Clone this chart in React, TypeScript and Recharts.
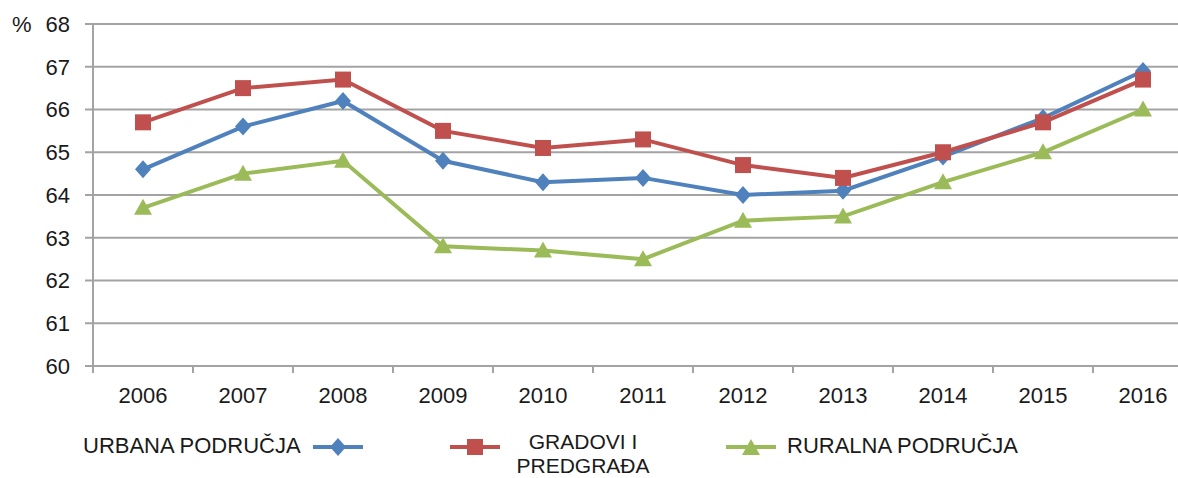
import { LineChart, Line, XAxis, YAxis, CartesianGrid, Legend } from "recharts";

const years = ["2006", "2007", "2008", "2009", "2010", "2011", "2012", "2013", "2014", "2015", "2016"];
const urbana = [64.6, 65.6, 66.2, 64.8, 64.3, 64.4, 64.0, 64.1, 64.9, 65.8, 66.9];
const gradovi = [65.7, 66.5, 66.7, 65.5, 65.1, 65.3, 64.7, 64.4, 65.0, 65.7, 66.7];
const ruralna = [63.7, 64.5, 64.8, 62.8, 62.7, 62.5, 63.4, 63.5, 64.3, 65.0, 66.0];
const yTicks = [60, 61, 62, 63, 64, 65, 66, 67, 68];

const data = years.map((y, i) => ({
  year: y,
  urbana: urbana[i],
  gradovi: gradovi[i],
  ruralna: ruralna[i],
}));

const BLUE = "#4F81BD";
const RED = "#C0504D";
const GREEN = "#9BBB59";
const GRID = "#a3a3a3";
const TEXT = "#1a1a1a";
const FONT = "'Liberation Sans', Arial, sans-serif";

const Diamond = ({ cx, cy, color }: any) => (
  <path d={`M${cx},${cy - 9} L${cx + 8},${cy} L${cx},${cy + 9} L${cx - 8},${cy} Z`} fill={color} />
);
const Square = ({ cx, cy, color }: any) => (
  <rect x={cx - 8} y={cy - 8} width={16} height={16} fill={color} />
);
const Triangle = ({ cx, cy, color }: any) => (
  <path d={`M${cx},${cy - 9} L${cx + 9},${cy + 7} L${cx - 9},${cy + 7} Z`} fill={color} />
);

const dotFor = (Shape: any, color: string) => (p: any) =>
  p.cx == null ? <g key={p.index} /> : <Shape key={p.index} cx={p.cx} cy={p.cy} color={color} />;

const XTick = ({ x, y, payload }: any) => {
  const half = payload.offset || 50;
  return (
    <g>
      <line x1={x - half} y1={y} x2={x - half} y2={y + 7} stroke={GRID} strokeWidth={2} />
      <line x1={x + half} y1={y} x2={x + half} y2={y + 7} stroke={GRID} strokeWidth={2} />
      <text x={x} y={y + 29} dy="0.355em" textAnchor="middle" fontSize={22} fill={TEXT} fontFamily={FONT}>
        {payload.value}
      </text>
    </g>
  );
};

const legendIcon = (key: string, color: string) => (
  <svg width={52} height={20} style={{ display: "block" }}>
    <line x1={1} y1={10} x2={51} y2={10} stroke={color} strokeWidth={4} />
    {key === "urbana" && <Diamond cx={26} cy={10} color={color} />}
    {key === "gradovi" && <Square cx={26} cy={10} color={color} />}
    {key === "ruralna" && <Triangle cx={26} cy={11} color={color} />}
  </svg>
);

const renderLegend = () => {
  const txt = { position: "absolute" as const, fontSize: 22, color: TEXT, fontFamily: FONT, whiteSpace: "nowrap" as const, lineHeight: "24px" };
  const red = { ...txt, fontSize: 21, width: 146, textAlign: "center" as const, left: 510 };
  return (
    <div style={{ position: "relative", height: 0 }}>
      <div style={{ ...txt, left: 83, top: 9 }}>URBANA PODRUČJA</div>
      <div style={{ position: "absolute", left: 312, top: 12 }}>{legendIcon("urbana", BLUE)}</div>
      <div style={{ position: "absolute", left: 449, top: 12 }}>{legendIcon("gradovi", RED)}</div>
      <div style={{ ...red, top: 5 }}>GRADOVI I</div>
      <div style={{ ...red, top: 29 }}>PREDGRAĐA</div>
      <div style={{ position: "absolute", left: 725, top: 12 }}>{legendIcon("ruralna", GREEN)}</div>
      <div style={{ ...txt, left: 787, top: 9 }}>RURALNA PODRUČJA</div>
    </div>
  );
};

export default function App() {
  return (
    <div style={{ position: "absolute", left: 0, top: 0, width: 1178, height: 478, overflow: "hidden", background: "#fff" }}>
      <LineChart width={1200} height={478} data={data} margin={{ top: 24, right: 7, left: 0, bottom: 0 }}>
        <CartesianGrid vertical={false} stroke={GRID} strokeWidth={2} />
        <XAxis
          dataKey="year"
          scale="band"
          height={112}
          tickSize={0}
          tickMargin={0}
          tick={<XTick />}
          axisLine={{ stroke: GRID, strokeWidth: 2 }}
          interval={0}
        />
        <YAxis
          width={93}
          domain={[60, 68]}
          ticks={yTicks}
          tickSize={8}
          tickMargin={15}
          tickLine={{ stroke: GRID, strokeWidth: 2 }}
          axisLine={{ stroke: GRID, strokeWidth: 2 }}
          tick={{ fontSize: 22, fill: TEXT, fontFamily: FONT }}
          label={{
            content: ({ viewBox }: any) => (
              <text x={12} y={viewBox.y} dy="0.355em" fontSize={22} fill={TEXT} fontFamily={FONT}>
                %
              </text>
            ),
          }}
        />
        <Legend content={renderLegend} wrapperStyle={{ top: 425, left: 0, width: 1200, height: 0 }} />
        <Line dataKey="urbana" name="URBANA PODRUČJA" stroke={BLUE} strokeWidth={4} dot={dotFor(Diamond, BLUE)} isAnimationActive={false} />
        <Line dataKey="gradovi" name="GRADOVI I PREDGRAĐA" stroke={RED} strokeWidth={4} dot={dotFor(Square, RED)} isAnimationActive={false} />
        <Line dataKey="ruralna" name="RURALNA PODRUČJA" stroke={GREEN} strokeWidth={4} dot={dotFor(Triangle, GREEN)} isAnimationActive={false} />
      </LineChart>
    </div>
  );
}
